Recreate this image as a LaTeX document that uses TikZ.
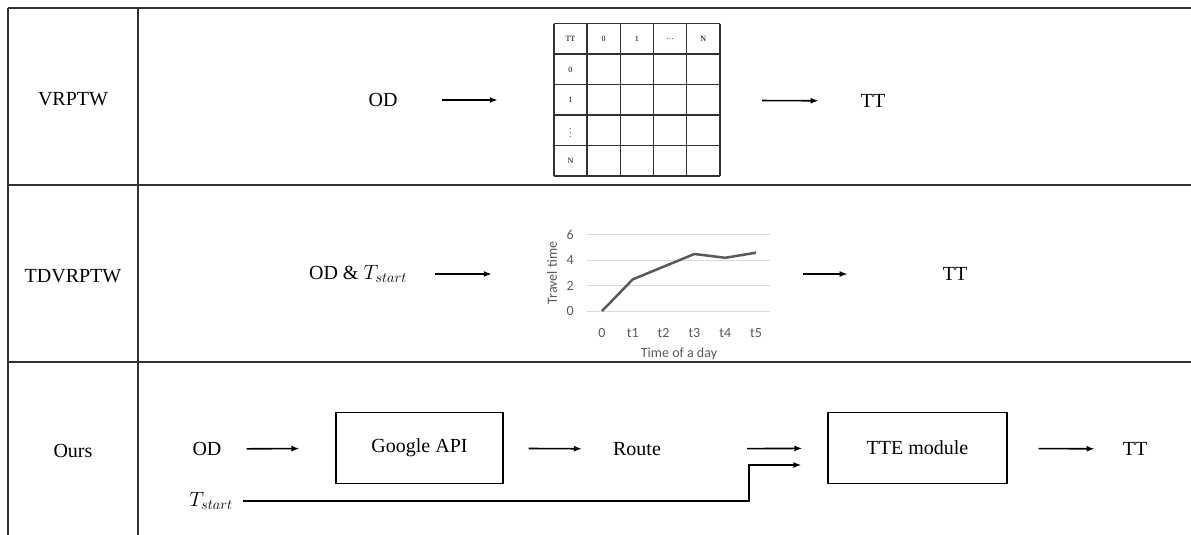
\documentclass[tikz,border=0pt]{standalone}
\usepackage{fontspec}
\setmainfont{Liberation Serif}
\newfontfamily\chartfont{Carlito}
\usepackage{tikz}
\usetikzlibrary{positioning, calc, arrows.meta}
\definecolor{gridGray}{RGB}{217, 217, 217}
\definecolor{lineGray}{RGB}{89, 89, 89}
\definecolor{ruleGray}{RGB}{50, 50, 50}

\begin{document}
\begin{tikzpicture}[
    x=1pt, y=-1pt,
    lbl/.style={inner sep=0pt, font=\fontsize{20}{24}\selectfont},
    procbox/.style={rectangle, draw, line width=1.2pt, minimum width=167pt,
                    minimum height=71pt, inner sep=0pt, font=\fontsize{20}{24}\selectfont},
    cell/.style={inner sep=0pt, font=\fontsize{8}{9}\selectfont},
    tick/.style={inner sep=0pt, font=\chartfont\fontsize{14}{16}\selectfont, text=lineGray},
    rule/.style={ruleGray, line width=1.5pt},
    arrow/.style={-{Latex[length=8pt, width=6pt]}, line width=1.6pt},
  ]
    \useasboundingbox (0,0) rectangle (1191,535);

    % frame of the table
    \foreach \yy in {8,185,362}
      \draw[rule] (8,\yy) -- (1191,\yy);
    \draw[rule] (8,8) -- (8,535);
    \draw[rule] (138,8) -- (138,535);

    \node[lbl] (vrptw) at (73,99) {VRPTW};
    \node[lbl] (tdvrptw) at (73,276) {TDVRPTW};
    \node[lbl] (ours) at (73,451) {Ours};

    % row 1: static matrix
    \node[lbl] (od1) at (383,100) {OD};
    \node[inner sep=0pt, minimum width=166pt, minimum height=152pt] (mat) at (637,100) {};
    \foreach \i in {0,...,5} {
      \draw[rule, line width=1.4pt] ($(mat.north west)+(33.2*\i,0)$) -- ++(0,152);
      \draw[rule, line width=1.4pt] ($(mat.north west)+(0,30.4*\i)$) -- ++(166,0);
    }
    \foreach \lab [count=\i from 0] in {TT,0,1,\dots,N}
      \node[cell] (hd\i) at ($(mat.north west)+(16.6+33.2*\i,15.2)$) {\lab};
    \foreach \lab [count=\j from 1] in {0,1,$\vdots$,N}
      \node[cell] (rw\j) at ($(mat.north west)+(16.6,15.2+30.4*\j)$) {\lab};
    \node[lbl] (tt1) at (873,101) {TT};

    \draw[arrow, shorten <=44pt, shorten >=56pt] (od1) -- (mat);
    \draw[arrow, shorten <=42pt, shorten >=42pt] (mat) -- (tt1);

    % row 2: time-dependent curve
    \node[lbl] (od2) at (358,274) {OD \& $T_{start}$};
    \node[inner sep=0pt, minimum width=230pt, minimum height=130pt] (chart) at (660,274) {};
    \foreach \v in {0,2,4,6} {
      \draw[gridGray, line width=1pt] (587,311-12.67*\v) -- (770,311-12.67*\v);
      \node[tick, anchor=east] (yl\v) at (574,311-12.67*\v) {\v};
    }
    \foreach \lab [count=\i from 0] in {0,t1,t2,t3,t4,t5}
      \node[tick] (xl\i) at (602+30.8*\i,333) {\lab};
    \draw[lineGray, line width=2.5pt, line join=round]
      (602,311) -- (632.8,311-12.67*2.5) -- (663.6,311-12.67*3.5)
      -- (694.4,311-12.67*4.5) -- (725.2,311-12.67*4.2) -- (756,311-12.67*4.6);
    \node[tick] (xtitle) at (679,354) {Time of a day};
    \node[tick, rotate=90] (ytitle) at (552,273) {Travel time};
    \node[lbl] (tt2) at (955,274) {TT};

    \draw[arrow, shorten <=28pt, shorten >=53pt] (od2) -- (chart);
    \draw[arrow, shorten <=28pt, shorten >=95pt] (chart) -- (tt2);

    % row 3: our pipeline
    \node[lbl] (od3) at (207,449) {OD};
    \node[procbox] (google) at (419.5,448) {Google API};
    \node[lbl] (route) at (637,449) {Route};
    \node[procbox, minimum width=179pt] (tte) at (917.5,448) {TTE module};
    \node[lbl] (tt3) at (1135,449) {TT};
    \node[lbl] (tst) at (211,501) {$T_{start}$};
    \coordinate (bend) at (749,465);

    \draw[arrow, shorten <=25pt, shorten >=36pt] (od3) -- (google);
    \draw[arrow, shorten <=25pt, shorten >=31pt] (google) -- (route);
    \draw[arrow, shorten <=86pt, shorten >=25pt] (route) -- (tte);
    \draw[arrow, shorten <=31pt, shorten >=28pt] (tte) -- (tt3);
    \draw[arrow, shorten <=10pt] (tst.east) -| (bend) -- ($(tte.west |- bend)+(-26,0)$);
  \end{tikzpicture}
\end{document}
